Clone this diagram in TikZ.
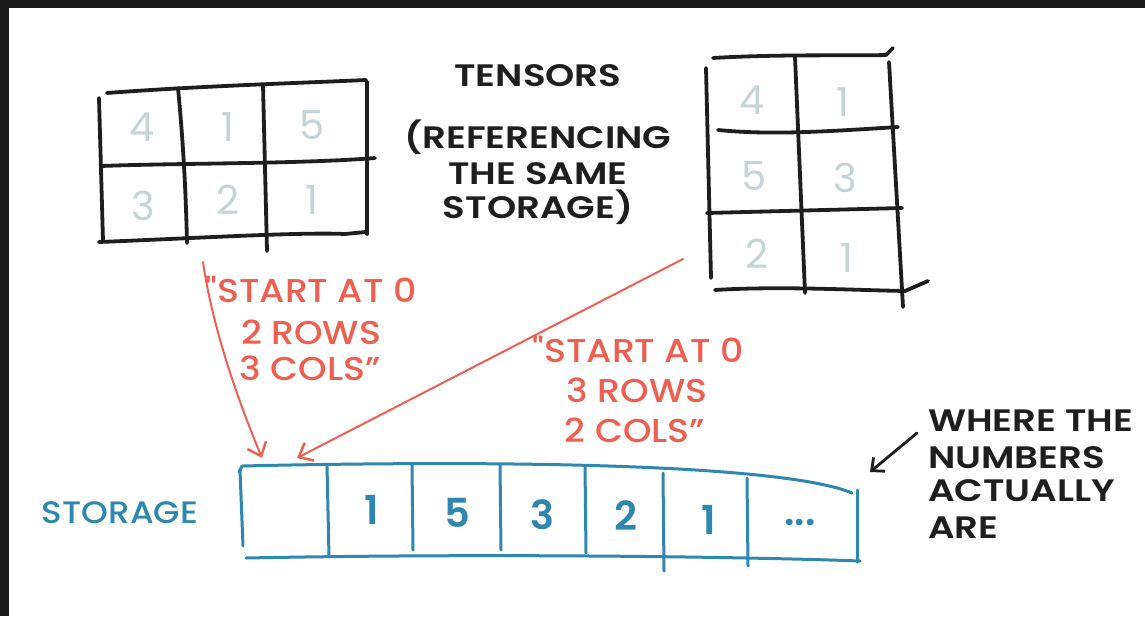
\documentclass[tikz,border=0pt]{standalone}
\usepackage{fontspec}
\setmainfont{Poppins}[BoldFont={Poppins SemiBold}]
\newfontfamily\handwide{Poppins}[FakeStretch=1.2,BoldFont={Poppins SemiBold}]
\newfontfamily\handmid{Poppins}[FakeStretch=1.1,BoldFont={Poppins Medium}]
\usetikzlibrary{arrows.meta}
\definecolor{ink}{HTML}{1E1E1E}
\definecolor{faint}{HTML}{C6D4D8}
\definecolor{redink}{HTML}{EE5F52}
\definecolor{blueink}{HTML}{2E87B0}
\definecolor{framecol}{HTML}{1A1A1A}
\begin{document}
\begin{tikzpicture}[x=1pt,y=-1pt,
  gridline/.style={draw=ink,line width=3.8pt,line cap=round,line join=round},
  storeline/.style={draw=blueink,line width=3pt,line cap=round,line join=round},
  pointer/.style={draw=redink,line width=2pt,line cap=round,-{Straight Barb[length=12pt,width=20pt,line width=2.4pt]}},
  inkpointer/.style={draw=ink,line width=2.8pt,line cap=round,-{Straight Barb[length=10pt,width=18pt,line width=2.8pt]}},
  note/.style={text=ink,font=\handwide\bfseries\fontsize{31}{31}\selectfont,inner sep=0pt},
  redlabel/.style={text=redink,font=\handmid\bfseries\fontsize{33}{33}\selectfont,inner sep=0pt},
  celltext/.style={text=faint,font=\fontsize{40}{40}\selectfont,inner sep=0pt},
  storetext/.style={text=blueink,font=\bfseries\fontsize{40}{40}\selectfont,inner sep=0pt},
  bluelabel/.style={text=blueink,font=\handmid\bfseries\fontsize{31}{31}\selectfont,inner sep=0pt},
]
\useasboundingbox (0,0) rectangle (1145,616);
\fill[white] (0,0) rectangle (1145,616);
\fill[framecol] (0,0) rectangle (1145,8);
\fill[framecol] (0,0) rectangle (9,616);

% ---- left tensor (2 x 3)
\draw[gridline] (107,93) .. controls (200,86) and (300,83) .. (366,80);
\draw[gridline] (99,98) -- (103,241);
\draw[gridline] (101,166) .. controls (180,163) and (300,164) .. (375,158);
\draw[gridline] (99,242) .. controls (200,238) and (300,232) .. (345,234) -- (366,232);
\draw[gridline] (178,88) .. controls (184,150) and (186,200) .. (187,243);
\draw[gridline] (263,85) -- (267,251);
\draw[gridline] (367,82) -- (367,234);
\node[celltext] (a1) at (142,127) {4};
\node[celltext] (a2) at (228,127) {1};
\node[celltext] (a3) at (312,125) {5};
\node[celltext] (a4) at (143,206) {3};
\node[celltext] (a5) at (228,200) {2};
\node[celltext] (a6) at (312,200) {1};

% ---- right tensor (3 x 2)
\draw[gridline] (713,58) .. controls (780,54) and (850,56) .. (886,55) -- (893,48);
\draw[gridline] (706,68) -- (711,278);
\draw[gridline] (795,57) -- (805,293);
\draw[gridline] (889,62) -- (903,307);
\draw[gridline] (718,130) .. controls (770,135) and (820,132) .. (898,127);
\draw[gridline] (707,213) -- (902,208);
\draw[gridline] (715,290) .. controls (780,286) and (850,290) .. (905,291) -- (928,281);
\node[celltext] (b1) at (752,100) {4};
\node[celltext] (b2) at (843,102) {1};
\node[celltext] (b3) at (754,176) {5};
\node[celltext] (b4) at (845,178) {3};
\node[celltext] (b5) at (757,254) {2};
\node[celltext] (b6) at (847,258) {1};

% ---- title
\node[note,anchor=base] (t1) at (538,86) {TENSORS};
\node[note,anchor=base] (t2) at (538,148) {(REFERENCING};
\node[note,anchor=base] (t3) at (538,184) {THE SAME};
\node[note,anchor=base] (t4) at (538,218) {STORAGE)};

% ---- storage
\draw[storeline] (239,472) -- (242,466) .. controls (550,459) and (790,467) .. (852,493);
\draw[storeline] (240,470) -- (243,546);
\draw[storeline] (246,558) .. controls (500,553) and (750,557) .. (860,561);
\draw[storeline] (857,490) -- (857,562);
\draw[storeline] (327,465) -- (329,557);
\draw[storeline] (412,465) -- (413,550);
\draw[storeline] (500,465) -- (501,550);
\draw[storeline] (585,466) -- (586,553);
\draw[storeline] (663,473) -- (664,571);
\draw[storeline] (747,478) -- (748,566);
\coordinate (s0) at (262,458);
\coordinate (s0b) at (297,458);
\node[storetext] (c1) at (372,510) {1};
\node[storetext] (c2) at (457,513) {5};
\node[storetext] (c3) at (542,515) {3};
\node[storetext] (c4) at (626,516) {2};
\node[storetext] (c5) at (709,520) {1};
\node[storetext] (c6) at (800,522) {...};
\node[bluelabel,anchor=base] (st) at (120,523) {STORAGE};

% ---- red annotations
\coordinate (p1) at (203,262);
\coordinate (p2) at (683,259);
\draw[pointer] (p1) .. controls (213,330) and (238,400) .. (s0);
\draw[pointer] (p2) -- (s0b);
\node[redlabel,anchor=base] (r1) at (311,302) {"START AT 0};
\node[redlabel,anchor=base] (r2) at (311,344) {2 ROWS};
\node[redlabel,anchor=base] (r3) at (310,380) {3 COLS”};
\node[redlabel,anchor=base] (r4) at (638,362) {"START AT 0};
\node[redlabel,anchor=base] (r5) at (637,402) {3 ROWS};
\node[redlabel,anchor=base] (r6) at (635,442) {2 COLS”};

% ---- where the numbers are
\node[note,anchor=base west] (w1) at (928,431) {WHERE THE};
\node[note,anchor=base west] (w2) at (928,468) {NUMBERS};
\node[note,anchor=base west] (w3) at (928,501) {ACTUALLY};
\node[note,anchor=base west] (w4) at (928,538) {ARE};
\coordinate (wa) at (917,433);
\coordinate (wb) at (870,472);
\draw[inkpointer] (wa) -- (wb);
\end{tikzpicture}
\end{document}
